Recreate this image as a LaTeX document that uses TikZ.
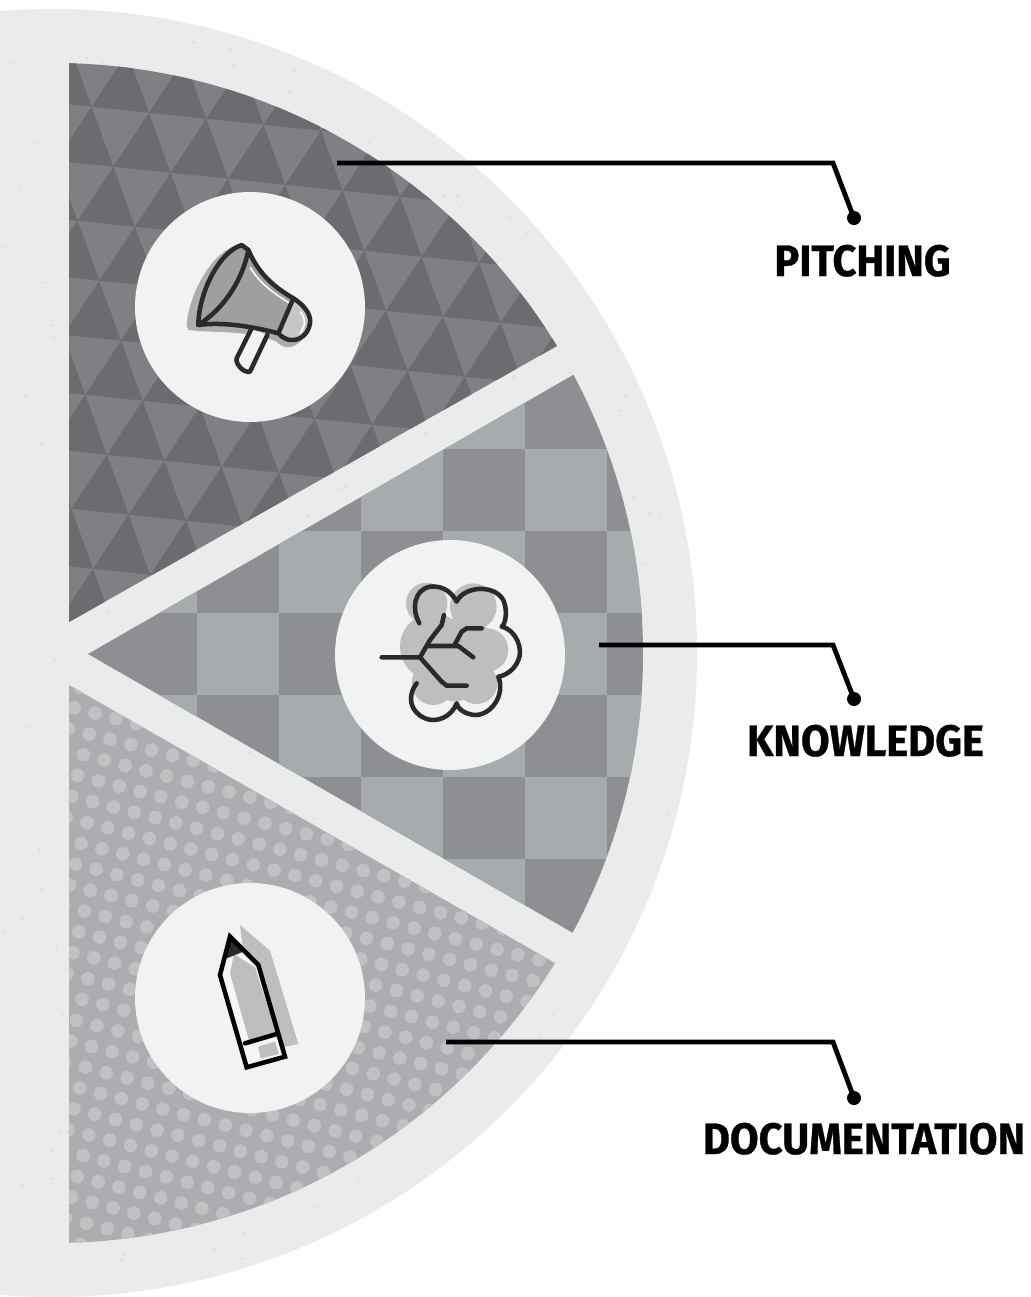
\documentclass[tikz,border=0pt]{standalone}
\usepackage{fontspec}
\newfontfamily\labfont[FakeStretch=0.945,BoldFeatures={FakeBold=0.7}]{Fira Sans}
\definecolor{discc}{HTML}{EAEBEB}
\definecolor{circc}{HTML}{F1F2F2}
\definecolor{triL}{HTML}{7E8083}
\definecolor{triD}{HTML}{6A6C6F}
\definecolor{chkL}{HTML}{A8ABAE}
\definecolor{chkD}{HTML}{8E8F93}
\definecolor{dotB}{HTML}{ABADB0}
\definecolor{dotL}{HTML}{BFC1C3}
\definecolor{ink}{HTML}{2A2A2C}
\definecolor{iconshade}{HTML}{BCBEC0}
\definecolor{hornshade}{HTML}{ABADAF}
\tikzset{
  leader/.style={line width=3.6pt,black,line join=miter},
  enddot/.style={circle,fill=black,inner sep=0pt,minimum size=10.5pt},
  lab/.style={font=\labfont\bfseries\fontsize{33}{33}\selectfont,text=black,inner sep=0pt,anchor=base},
  iconline/.style={line width=3.4pt,draw=ink,line cap=round,line join=round},
  badge/.style={circle,fill=circc,inner sep=0pt,minimum size=172.5pt}
}
\begin{document}
\begin{tikzpicture}[x=0.75pt,y=-0.75pt]
\useasboundingbox (0,0) rectangle (1031,1297);
\clip (0,0) rectangle (1031,1297);
\fill[white] (0,0) rectangle (1031,1297);
\fill[discc] (53,653) circle (644);
% speckle
\begin{scope}
\clip (53,653) circle (644);
\pgfmathsetseed{7}
\foreach \k in {1,...,260}{
  \pgfmathsetmacro{\spx}{rnd*700}
  \pgfmathsetmacro{\spy}{rnd*1297}
  \fill[gray,opacity=.12] (\spx,\spy) circle (1.6);
}
\end{scope}
% pitching sector
\begin{scope}
\clip (53,653) circle (590);
\clip (69,622) -- (700,265) -- (700,0) -- (69,0) -- cycle;
\fill[triL] (0,0) rectangle (700,700);
\foreach \j in {-3,...,8}{
  \foreach \i in {-9,...,10}{
    \pgfmathsetmacro{\ax}{113.3+57.33*\i+21.67*\j}
    \pgfmathsetmacro{\ay}{166.7+6*\i+60*\j}
    \fill[triD] (\ax,\ay) -- ++(57.33,6) -- ++(-21.67,-60) -- cycle;
  }
}
\end{scope}
% knowledge sector
\begin{scope}
\clip (53,653) circle (590);
\clip (88,654) -- (700,302) -- (700,1006) -- cycle;
\fill[chkD] (0,300) rectangle (700,1010);
\foreach \j in {-5,...,5}{
  \foreach \i in {-1,...,7}{
    \pgfmathtruncatemacro{\parity}{mod(abs(\i+\j),2)}
    \ifnum\parity=0
      \pgfmathsetmacro{\ax}{197+82*\i}
      \pgfmathsetmacro{\ay}{613+82*\j}
      \fill[chkL] (\ax,\ay) rectangle ++(82,82);
    \fi
  }
}
\end{scope}
% documentation sector
\begin{scope}
\clip (53,653) circle (590);
\clip (69,685) -- (700,1046) -- (700,1297) -- (69,1297) -- cycle;
\fill[dotB] (0,680) rectangle (700,1297);
\foreach \j in {-12,...,28}{
  \foreach \i in {-10,...,30}{
    \pgfmathsetmacro{\ax}{89.3+20.8*\i-5.8*\j}
    \pgfmathsetmacro{\ay}{734+5.3*\i+20.8*\j}
    \fill[dotL] (\ax,\ay) circle (6.8);
  }
}
\end{scope}
% badges
\node[badge] (bp) at (250,307) {};
\node[badge] (bk) at (450,655) {};
\node[badge] (bd) at (250,998) {};
% megaphone
\begin{scope}[shift={(130,190)},scale=1/3]
\fill[hornshade] (170,405) .. controls (175,320) and (240,190) .. (320,165) -- (350,200) -- (540,400) .. controls (520,470) and (470,490) .. (440,455) .. controls (360,420) and (260,430) .. (175,420) -- cycle;
\fill[circc] (365,415) -- (320,505) .. controls (315,520) and (340,550) .. (360,545) -- (412,435) -- cycle;
\draw[iconline] (365,415) -- (320,505) .. controls (315,520) and (340,550) .. (360,545) -- (412,435);
\fill[gray!75] (205,405) .. controls (205,320) and (260,190) .. (335,165) -- (355,180) .. controls (385,250) and (430,290) .. (490,325) -- (445,430) .. controls (370,410) and (280,395) .. (205,405) -- cycle;
\fill[gray!45] (490,325) .. controls (515,340) and (545,370) .. (540,400) .. controls (535,440) and (490,470) .. (450,435) -- cycle;
\draw[white,line width=1.2pt] (360,232) .. controls (390,280) and (430,310) .. (480,340);
\draw[white,line width=1.2pt] (510,365) .. controls (530,385) and (525,410) .. (510,430);
\draw[iconline] (205,405) .. controls (205,320) and (260,190) .. (335,165) -- (355,180) .. controls (385,250) and (430,290) .. (490,325) -- (445,430) .. controls (370,410) and (280,395) .. (205,405) -- cycle;
\draw[iconline] (355,180) .. controls (340,260) and (290,350) .. (205,405);
\draw[iconline] (490,325) .. controls (515,340) and (545,370) .. (540,400) .. controls (535,440) and (490,470) .. (450,435);
\end{scope}
% tree
\begin{scope}[shift={(330,540)},scale=1/3]
\fill[iconshade] (290,190) circle (62) (430,200) circle (70) (470,330) circle (65) (310,320) circle (100) (310,430) circle (65) (440,430) circle (62) (400,320) circle (90) (375,430) circle (55);
\draw[iconline] (268,250) .. controls (245,210) and (250,150) .. (300,140) .. controls (345,135) and (370,165) .. (380,185) .. controls (400,140) and (490,130) .. (520,180) .. controls (535,215) and (525,255) .. (515,260) .. controls (560,270) and (580,330) .. (565,360) .. controls (550,400) and (510,410) .. (505,410) .. controls (525,460) and (490,520) .. (440,525) .. controls (410,525) and (385,510) .. (380,490) .. controls (365,530) and (320,550) .. (285,535) .. controls (240,515) and (230,470) .. (260,430);
\draw[iconline] (155,352) -- (270,352) -- (300,300) -- (335,255) -- (342,225);
\draw[iconline] (270,352) -- (335,425) -- (350,437) -- (410,437);
\draw[iconline] (295,318) -- (385,318) -- (430,352);
\draw[iconline] (372,318) -- (395,275) -- (410,265) -- (455,265);
\end{scope}
% pencil
\begin{scope}[shift={(130,880)},scale=1/3]
\fill[iconshade] (330,135) -- (420,212) -- (505,492) -- (440,505) -- (340,220) -- cycle;
\fill[white!92!gray] (300,170) -- (385,255) -- (465,530) -- (350,562) -- (270,285) -- cycle;
\fill[iconshade] (312,222) -- (375,262) -- (440,462) -- (358,485) -- (300,280) -- cycle;
\fill[iconshade] (385,500) -- (435,485) -- (447,522) -- (392,535) -- cycle;
\fill[ink] (300,170) -- (340,215) -- (290,235) -- cycle;
\draw[iconline,draw=black,line join=miter] (300,170) -- (385,255) -- (465,530) -- (350,562) -- (270,285) -- cycle;
\draw[iconline,draw=black] (345,490) -- (440,462);
\end{scope}
% leaders
\coordinate (s1) at (337,163); \coordinate (c1) at (833,163);
\node[enddot] (d1) at (854,218) {};
\coordinate (s2) at (599,645); \coordinate (c2) at (833,645);
\node[enddot] (d2) at (854,699) {};
\coordinate (s3) at (446,1042); \coordinate (c3) at (833,1042);
\node[enddot] (d3) at (854,1098) {};
\draw[leader] (s1) -- (c1) -- (d1.center);
\draw[leader] (s2) -- (c2) -- (d2.center);
\draw[leader] (s3) -- (c3) -- (d3.center);
\node[lab] (t1) at (862.5,276) {PITCHING};
\node[lab] (t2) at (865.5,756) {KNOWLEDGE};
\node[lab] (t3) at (864,1154) {DOCUMENTATION};
\end{tikzpicture}
\end{document}
